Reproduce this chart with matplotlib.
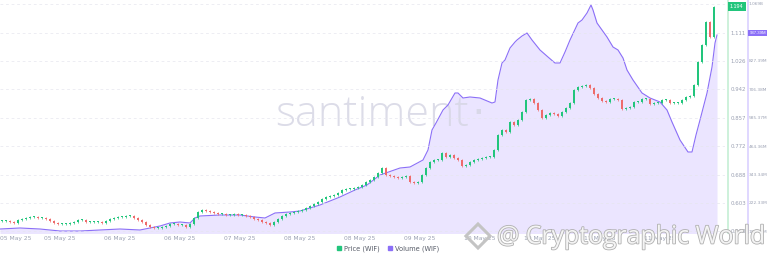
import matplotlib.pyplot as plt
import matplotlib.patheffects as pe
from matplotlib.lines import Line2D
from matplotlib.patches import Polygon

# hourly closes of WIF, starting 05 May 25 00:00
closes = [
    0.5493, 0.5493, 0.5463, 0.5434, 0.5523, 0.5553, 0.5583, 0.5612, 0.5612, 0.5583,
    0.5583, 0.5553, 0.5493, 0.5434, 0.5404, 0.5404, 0.5404, 0.5434, 0.5463, 0.5523,
    0.5523, 0.5463, 0.5463, 0.5463, 0.5463, 0.5434, 0.5493, 0.5553, 0.5583, 0.5612,
    0.5612, 0.5642, 0.5642, 0.5583, 0.5523, 0.5463, 0.5374, 0.5314, 0.5285, 0.5285,
    0.5314, 0.5344, 0.5404, 0.5404, 0.5374, 0.5374, 0.5314, 0.5404, 0.5583, 0.5761,
    0.5821, 0.5791, 0.5761, 0.5732, 0.5702, 0.5702, 0.5672, 0.5672, 0.5702, 0.5672,
    0.5672, 0.5642, 0.5612, 0.5553, 0.5523, 0.5463, 0.5434, 0.5374, 0.5463, 0.5553,
    0.5642, 0.5702, 0.5732, 0.5761, 0.5791, 0.5821, 0.5881, 0.5940, 0.6000, 0.6059,
    0.6149, 0.6209, 0.6238, 0.6268, 0.6328, 0.6417, 0.6447, 0.6447, 0.6477, 0.6506,
    0.6566, 0.6655, 0.6715, 0.6804, 0.6924, 0.7073, 0.6864, 0.6834, 0.6804, 0.6775,
    0.6804, 0.6834, 0.6655, 0.6626, 0.6655, 0.6864, 0.7073, 0.7251, 0.7311, 0.7311,
    0.7520, 0.7401, 0.7460, 0.7371, 0.7311, 0.7132, 0.7162, 0.7251, 0.7311, 0.7341,
    0.7371, 0.7401, 0.7401, 0.7609, 0.8056, 0.8205, 0.8145, 0.8443, 0.8354, 0.8503,
    0.8741, 0.9099, 0.9129, 0.9010, 0.8801, 0.8563, 0.8652, 0.8712, 0.8682, 0.8622,
    0.8741, 0.8861, 0.9010, 0.9397, 0.9486, 0.9516, 0.9546, 0.9457, 0.9278, 0.9159,
    0.9069, 0.9039, 0.9129, 0.9129, 0.9099, 0.8831, 0.8861, 0.8890, 0.9039, 0.9039,
    0.9129, 0.9129, 0.8980, 0.9010, 0.9010, 0.9099, 0.9099, 0.9010, 0.9010, 0.9010,
    0.9099, 0.9188, 0.9218, 0.9546, 1.0231, 1.0738, 1.1423, 1.0976, 1.1870,
]
first_open = 0.5493

# volume line (hours since start, millions)
vol_hours = [
    0, 5, 10, 15, 20, 25, 30, 35, 37.5, 40, 42.5, 45, 47.5, 48.75, 50, 55, 60,
    63.75, 66.25, 68.75, 72.5, 75, 80, 85, 88.75, 91.75, 95, 100, 102.5, 105.75,
    107, 108, 109, 110.75, 112, 113.75, 114.5, 115.75, 117.5, 120, 123, 123.75,
    124.5, 125.5, 126.25, 127.5, 128.75, 129.25, 130.5, 131.75, 133, 135, 137,
    138.75, 140, 141.25, 142.5, 144.5, 145.5, 146.75, 147.75, 148.25, 149.25,
    150.5, 151.75, 153.25, 154.5, 155.75, 156.75, 158.25, 160.5, 162.5, 165,
    166.75, 168, 170, 172, 173, 174, 175, 176.75, 178, 178.75, 179.25,
]
vol_values = [
    111.5, 115.8, 111.5, 103.0, 103.0, 107.3, 111.5, 107.3, 115.8, 124.3, 137.1,
    141.3, 137.1, 158.4, 166.9, 171.1, 171.1, 162.6, 158.4, 179.7, 183.9, 188.2,
    213.7, 247.8, 277.6, 298.9, 341.4, 371.2, 375.5, 405.3, 447.9, 533.0, 562.8,
    618.1, 639.4, 690.5, 690.5, 669.2, 673.5, 669.2, 647.9, 652.2, 745.8, 818.2,
    831.0, 882.1, 907.6, 916.1, 933.1, 945.9, 916.1, 873.6, 843.7, 818.2, 818.2,
    865.0, 916.1, 988.5, 1001.3, 1031.0, 1065.1, 1043.8, 988.5, 958.7, 928.9,
    886.3, 873.6, 839.5, 788.4, 745.8, 690.5, 669.2, 652.2, 618.1, 567.0, 490.4,
    439.3, 439.3, 511.7, 575.6, 690.5, 801.2, 903.3, 937.4,
]

tick_hours = [0, 15, 30, 45, 60, 75, 90, 105, 120, 135, 150, 165]
tick_labels = ['05 May 25', '05 May 25', '06 May 25', '06 May 25', '07 May 25',
               '08 May 25', '08 May 25', '09 May 25', '10 May 25', '10 May 25',
               '11 May 25', '11 May 25']
price_ticks = [0.5184, 0.6030, 0.6877, 0.7723, 0.8570, 0.9416, 1.0263, 1.1109, 1.1956]
vol_ticks = [101.32, 222.33, 343.34, 464.36, 585.37, 706.38, 827.39, 948.40, 1069.41]
vol_tick_labels = ['101.32M', '222.33M', '343.34M', '464.36M', '585.37M',
                   '706.38M', '827.39M', '948.40M', '1.069B']
last_price = '1.194'
last_volume = '937.39M'

GREEN = '#22c57c'
RED = '#ee6b6b'
PURPLE = '#8b6ff7'
FILL = '#ebe5ff'
LABEL = '#9ba1b3'
SMALL = 'Liberation Sans'

fig = plt.figure(figsize=(7.68, 2.6), dpi=100)
ax_vol = fig.add_axes([0, 27 / 260, 725 / 768, 233 / 260])
ax = ax_vol.twinx()

# volume
ax_vol.fill_between(vol_hours, vol_values, 0, color=FILL, lw=0, zorder=1)
ax_vol.plot(vol_hours, vol_values, color=PURPLE, lw=0.8, zorder=3)
ax_vol.text(93, 600, 'santiment', fontsize=31, color='#d6d6e4', family='Open Sans',
            weight='light', ha='center', va='center', zorder=2, alpha=0.85)
ax_vol.text(119.5, 600, '·', fontsize=31, color='#d6d6e4', ha='center', va='center',
            zorder=2, alpha=0.85)
ax_vol.set_ylim(94.5, 1086.4)

# candles
opens = [first_open] + closes[:-1]
xs = [i + 0.5 for i in range(len(closes))]
for x, o, c in zip(xs, opens, closes):
    col = GREEN if c >= o else RED
    lo, hi = min(o, c), max(o, c)
    ax.vlines(x, lo - 0.003, hi + 0.003, color=col, lw=0.5, zorder=3)
    ax.bar(x, max(hi - lo, 0.0018), bottom=lo, width=0.72, color=col, lw=0, zorder=4)
ax.set_ylim(0.5136, 1.2079)
ax.set_xlim(0, 181.25)

# grid
ax.set_yticks(price_ticks)
ax.set_yticklabels([f'{v:.3f}' for v in price_ticks])
ax.set_xticks(tick_hours)
ax.grid(True, color='#e6e6ee', lw=0.5, ls=(0, (4, 4)), zorder=0)

ax_vol.set_xticks(tick_hours)
ax_vol.set_xticklabels(tick_labels)
ax_vol.set_yticks(vol_ticks)
ax_vol.set_yticklabels(vol_tick_labels)
ax.tick_params(axis='x', labelbottom=False, length=0)
ax_vol.tick_params(axis='x', length=0, labelsize=4.3, labelcolor=LABEL, pad=2.5)
for lab in ax_vol.get_xticklabels()[:1]:
    lab.set_horizontalalignment('left')

ax_vol.yaxis.tick_right()
ax.tick_params(axis='y', length=0, labelsize=3.9, labelcolor=LABEL, pad=2.0)
ax_vol.tick_params(axis='y', length=0, labelsize=3.05, labelcolor=LABEL, pad=0.6)
for lab in ax.get_yticklabels() + ax_vol.get_yticklabels():
    lab.set_family(SMALL)

for a in (ax, ax_vol):
    for s in a.spines.values():
        s.set_visible(False)
ax.spines['right'].set_visible(True)
ax.spines['right'].set_position(('axes', 728 / 725))
ax.spines['right'].set_color('#c9f0d8')
ax.spines['right'].set_linewidth(1.3)
ax_vol.spines['right'].set_visible(True)
ax_vol.spines['right'].set_position(('axes', 747.5 / 725))
ax_vol.spines['right'].set_color('#ddd4ff')
ax_vol.spines['right'].set_linewidth(1.3)

# last value tags
fig.text(730 / 768, 1 - 6.5 / 260, last_price, fontsize=3.9, color='white', va='center',
         family=SMALL, bbox=dict(boxstyle='square,pad=0.4', fc=GREEN, ec='none'))
fig.text(749.3 / 768, 1 - 33 / 260, last_volume, fontsize=3.05, color='white', va='center',
         family=SMALL, bbox=dict(boxstyle='square,pad=0.35', fc=PURPLE, ec='none'))

# legend
handles = [Line2D([], [], marker='s', ls='none', color=GREEN, markersize=3.2),
           Line2D([], [], marker='s', ls='none', color=PURPLE, markersize=3.2)]
fig.legend(handles, ['Price (WIF)', 'Volume (WIF)'], loc='center', ncol=2,
           bbox_to_anchor=(0.505, 1 - 249 / 260), frameon=False, fontsize=4.8,
           handlelength=0.8, handletextpad=0.3, columnspacing=1.2, labelcolor='#555a66')

# overlay watermark
cx, cy, r = 478 / 768, 1 - 236 / 260, 12
logo = Polygon([(cx, cy + r / 260), (cx + r / 768, cy), (cx, cy - r / 260), (cx - r / 768, cy)],
               closed=True, fill=False, ec='#c4c4c4', lw=2.2, transform=fig.transFigure)
fig.patches.append(logo)
fig.text(497 / 768, 1 - 237 / 260, '@ Cryptographic World', fontsize=17.9, color='#f4f4f4',
         family='Open Sans', va='center', ha='left',
         path_effects=[pe.withStroke(linewidth=1.2, foreground='#b0b0b0')])

fig.savefig('out.png', dpi=100)
